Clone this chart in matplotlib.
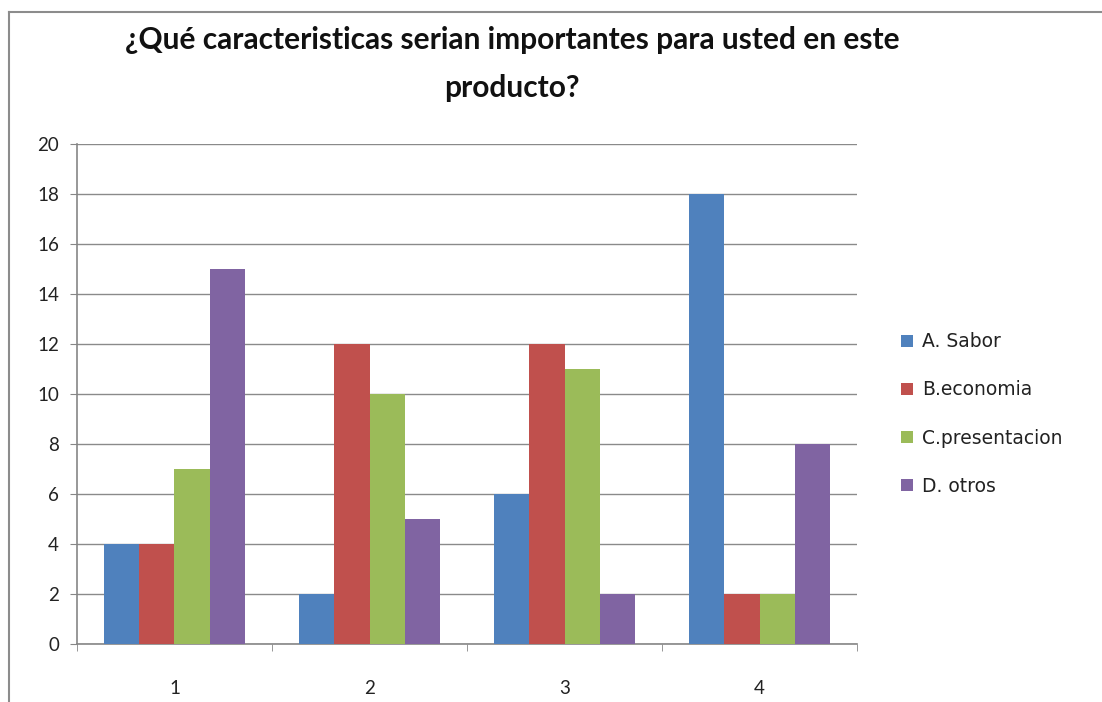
import matplotlib
matplotlib.use("Agg")
import matplotlib.pyplot as plt
from matplotlib.lines import Line2D
from matplotlib.patches import Patch
import numpy as np

plt.rcParams['font.family'] = ['Lato', 'DejaVu Sans']

categories = ["1", "2", "3", "4"]
series_names = ["A. Sabor", "B.economia", "C.presentacion", "D. otros"]
sabor = [4, 2, 6, 18]
economia = [4, 12, 12, 2]
presentacion = [7, 10, 11, 2]
otros = [15, 5, 2, 8]
series_values = [sabor, economia, presentacion, otros]
colors = ["#4F81BD", "#C0504D", "#9BBB59", "#8064A2"]
y_ticks = [0, 2, 4, 6, 8, 10, 12, 14, 16, 18, 20]
title = "¿Qué caracteristicas serian importantes para usted en este\nproducto?"

W, H = 1102, 702
fig = plt.figure(figsize=(W / 100, H / 100), dpi=100)
fig.patch.set_facecolor("white")

# plot area in pixel coordinates
left, right, top, bottom = 77, 857, 144, 644
ax = fig.add_axes([left / W, 1 - bottom / H, (right - left) / W, (bottom - top) / H])

x = np.arange(1, len(categories) + 1)
bw = 1 / 5.5  # Excel-style gap width of 150%
for i, (vals, c, name) in enumerate(zip(series_values, colors, series_names)):
    ax.bar(x + (i - 1.5) * bw, vals, width=bw, color=c, label=name, zorder=3,
           linewidth=0)

ax.set_xlim(0.5, len(categories) + 0.5)
ax.set_ylim(0, 20)
ax.set_yticks(y_ticks)
ax.set_yticklabels([str(v) for v in y_ticks])
ax.set_xticks(x)
ax.set_xticklabels(categories)
ax.set_xticks(np.arange(0.5, len(categories) + 1, 1), minor=True)

ax.yaxis.grid(True, color="#8a8a8a", linewidth=1.0, zorder=0)
ax.set_axisbelow(True)
for side in ["top", "right"]:
    ax.spines[side].set_visible(False)
for side in ["left", "bottom"]:
    ax.spines[side].set_color("#868686")
    ax.spines[side].set_linewidth(1.2)

ax.tick_params(axis="y", which="major", length=5, color="#868686",
               labelsize=13.5, pad=8, labelcolor="#222222")
ax.tick_params(axis="x", which="major", length=0, labelsize=13.5, pad=26,
               labelcolor="#222222")
ax.tick_params(axis="x", which="minor", length=5, color="#868686")

fig.text(512 / W, 1 - 64 / H, title, ha="center", va="center", fontsize=21.5,
         fontweight="bold", color="#111111", linespacing=1.9)

handles = [Patch(facecolor=c, edgecolor="none") for c in colors]
fig.legend(handles, series_names, loc="center left",
           bbox_to_anchor=(884 / W, 1 - 414 / H), frameon=False,
           prop={"family": "DejaVu Sans", "size": 13.5},
           handlelength=0.65, handleheight=0.65, handletextpad=0.5,
           labelspacing=1.55, labelcolor="#222222")

# chart frame
fig.add_artist(Line2D([9 / W, 1], [1 - 12 / H, 1 - 12 / H], color="#8c8c8c",
                      linewidth=1.5, transform=fig.transFigure))
fig.add_artist(Line2D([9 / W, 9 / W], [0, 1 - 12 / H], color="#8c8c8c",
                      linewidth=1.5, transform=fig.transFigure))

fig.savefig("out.png", dpi=100)
